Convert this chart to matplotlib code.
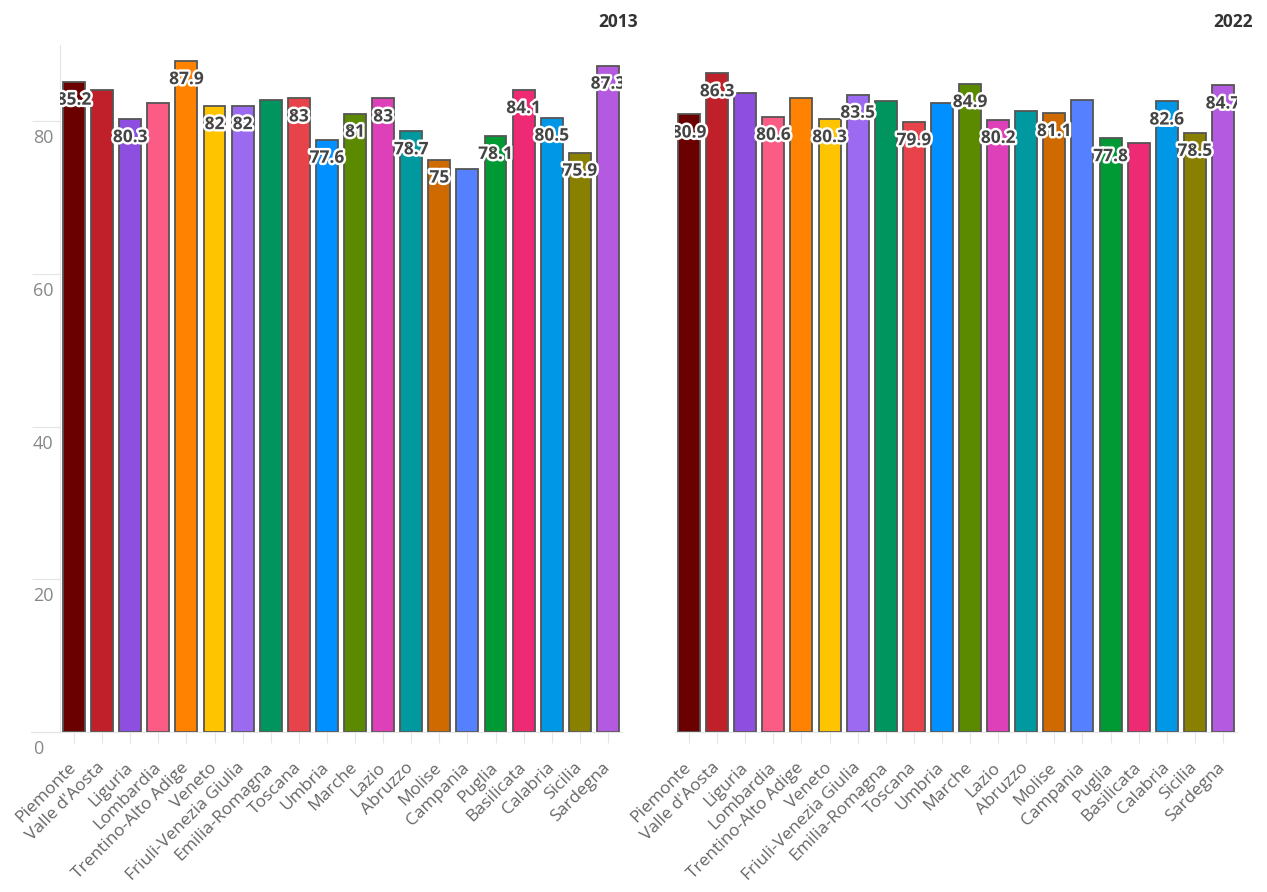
from matplotlib import pyplot as plt
from matplotlib import patheffects
from matplotlib.transforms import ScaledTranslation, Bbox, TransformedBbox

regions = ['Piemonte', "Valle d'Aosta", 'Liguria', 'Lombardia', 'Trentino-Alto Adige',
           'Veneto', 'Friuli-Venezia Giulia', 'Emilia-Romagna', 'Toscana', 'Umbria',
           'Marche', 'Lazio', 'Abruzzo', 'Molise', 'Campania', 'Puglia', 'Basilicata',
           'Calabria', 'Sicilia', 'Sardegna']

values_2013 = [85.2, 84.1, 80.3, 82.4, 87.9, 82, 82, 82.8, 83, 77.6,
               81, 83, 78.7, 75, 73.7, 78.1, 84.1, 80.5, 75.9, 87.3]
values_2022 = [80.9, 86.3, 83.7, 80.6, 83.1, 80.3, 83.5, 82.6, 79.9, 82.4,
               84.9, 80.2, 81.3, 81.1, 82.8, 77.8, 77.1, 82.6, 78.5, 84.7]

# which bars carry a value label (the others were hidden by the renderer)
shown_2013 = [1, 0, 1, 0, 1, 1, 1, 0, 1, 1, 1, 1, 1, 1, 0, 1, 1, 1, 1, 1]
shown_2022 = [1, 1, 0, 1, 0, 1, 1, 0, 1, 0, 1, 1, 0, 1, 0, 1, 0, 1, 1, 1]

colors = ['#6b0000', '#c0202a', '#8e4fe0', '#fb5c85', '#ff8200', '#ffc400', '#9b6af0',
          '#00955e', '#e8424a', '#0090ff', '#5b8a00', '#dd40b8', '#00999f', '#cf6a00',
          '#5580ff', '#009a35', '#ee2a74', '#0098e6', '#8a8000', '#b45ae0']

yticks = [0, 20, 40, 60, 80]

plt.rcParams['font.family'] = ['Open Sans', 'DejaVu Sans']

fig = plt.figure(figsize=(12.67, 8.92), dpi=100)
W, H = 1267, 892


def px_axes(left, right, top, bottom):
    return fig.add_axes([left / W, 1 - bottom / H, (right - left) / W, (bottom - top) / H])


ax1 = px_axes(31, 622, 45, 732)
ax2 = px_axes(675, 1237, 45, 732)
ax1.set_xlim(-1.53, 19.5)
ax2.set_xlim(-0.5, 19.5)

halo = [patheffects.withStroke(linewidth=3.5, foreground='white')]

for ax, vals, shown, year, right_px in [(ax1, values_2013, shown_2013, '2013', 638),
                                        (ax2, values_2022, shown_2022, '2022', 1253)]:
    x = range(len(regions))
    ax.bar(x, vals, width=0.78, color=colors, edgecolor='#555555', linewidth=1.3, zorder=2)
    ax.set_ylim(0, 90)
    ax.set_xticks(list(x))
    ax.set_xticklabels(regions, rotation=45, ha='right', va='center',
                       rotation_mode='anchor', fontsize=12.5, color='#666666')
    off = ScaledTranslation(0.08, 0, fig.dpi_scale_trans)
    for lab in ax.get_xticklabels():
        lab.set_transform(lab.get_transform() + off)
    ax.tick_params(axis='x', length=8, color='#e4e4e4', pad=16)
    for s in ['top', 'right']:
        ax.spines[s].set_visible(False)
    ax.spines['bottom'].set_color('#e4e4e4')
    # value labels are cut at the edges of the bar area
    clip = TransformedBbox(Bbox([[-0.5, 0], [19.5, 90]]), ax.transData)
    for i, v in enumerate(vals):
        if shown[i]:
            t = ax.annotate(f'{v:g}', (i, v), xytext=(0, -13), textcoords='offset points',
                            ha='center', va='center', fontsize=12.5, fontweight='bold',
                            color='#444444', path_effects=halo, zorder=3)
            t.set_clip_box(clip)
            t.set_clip_on(True)
    fig.text(right_px / W, 1 - 22 / H, year, ha='right', va='center',
             fontsize=12.5, fontweight='bold', color='#333333')

# left panel: y axis line sits at the first category edge
ax1.spines['left'].set_position(('data', -0.5))
ax1.spines['left'].set_color('#e4e4e4')
ax1.set_yticks(yticks)
ax1.set_yticklabels([])
ax1.tick_params(axis='y', length=20, color='#e4e4e4')
lab_off = ScaledTranslation(-0.27, -0.17, fig.dpi_scale_trans)
for t in yticks:
    ax1.text(-0.5, t, str(t), transform=ax1.transData + lab_off, ha='left', va='center',
             fontsize=13, color='#888888')

ax2.spines['left'].set_visible(False)
ax2.set_yticks([])

plt.savefig('out.png', dpi=100)
